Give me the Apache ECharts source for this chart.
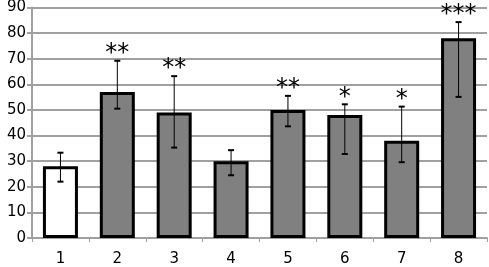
<!DOCTYPE html>
<html><head><meta charset="utf-8">
<script src="https://cdn.jsdelivr.net/npm/echarts@6/dist/echarts.min.js"></script>
<style>html,body{margin:0;padding:0;background:#fff}#c{width:489px;height:267px}</style>
</head><body><div id="c"></div>
<script>
const categories = ['1','2','3','4','5','6','7','8'];
const values = [28, 57, 49, 30, 50, 48, 38, 78];
const errHigh = [33.3, 69.2, 63.2, 34.3, 55.5, 52.2, 51.3, 84.3];
const errLow = [22, 50.5, 35.3, 24.5, 43.6, 32.8, 29.6, 55.1];
const sigLabels = ['', '**', '**', '', '**', '*', '*', '***'];
const yTicks = [0, 10, 20, 30, 40, 50, 60, 70, 80, 90];

const chart = echarts.init(document.getElementById('c'), null, {renderer: 'canvas'});
const barData = values.map((v, i) => ({
  value: v,
  itemStyle: {color: i === 0 ? '#ffffff' : '#808080'}
}));
const errData = categories.map((c, i) => [i, errLow[i], errHigh[i]]);

chart.setOption({
  animation: false,
  grid: {left: 32, right: 2, top: 6, bottom: 27, containLabel: false},
  xAxis: {
    type: 'category', data: categories,
    axisLine: {lineStyle: {color: '#a0a0a0', width: 2}},
    axisTick: {show: true, length: 4, lineStyle: {color: '#a0a0a0'}},
    axisLabel: {fontSize: 15, color: '#000', margin: 14, fontFamily: 'DejaVu Sans'}
  },
  yAxis: {
    type: 'value', min: yTicks[0], max: yTicks[yTicks.length - 1], interval: 10,
    axisLine: {show: true, lineStyle: {color: '#a0a0a0', width: 2}},
    axisTick: {show: true, length: 5, lineStyle: {color: '#a0a0a0', width: 2}},
    axisLabel: {fontSize: 15, color: '#000', margin: 6, fontFamily: 'DejaVu Sans'},
    splitLine: {lineStyle: {color: '#a0a0a0', width: 2}}
  },
  series: [{
    type: 'bar', data: barData, barWidth: 35, z: 2,
    itemStyle: {borderColor: '#000', borderWidth: 3}
  }, {
    type: 'custom', data: errData, z: 5,
    renderItem: function (params, api) {
      const x = api.value(0);
      const lo = api.coord([x, api.value(1)]);
      const hi = api.coord([x, api.value(2)]);
      const cap = 3;
      const children = [
        {type: 'line', shape: {x1: hi[0], y1: hi[1], x2: lo[0], y2: lo[1]}, style: {stroke: '#000', lineWidth: 1}},
        {type: 'line', shape: {x1: hi[0] - cap, y1: hi[1], x2: hi[0] + cap, y2: hi[1]}, style: {stroke: '#000', lineWidth: 2}},
        {type: 'line', shape: {x1: lo[0] - cap, y1: lo[1], x2: lo[0] + cap, y2: lo[1]}, style: {stroke: '#000', lineWidth: 2}}
      ];
      const lab = sigLabels[params.dataIndex];
      if (lab) {
        children.push({type: 'text', style: {
          text: lab, x: hi[0], y: hi[1] - 7, align: 'center', verticalAlign: 'middle',
          fontSize: 24, fontFamily: 'DejaVu Sans', fill: '#000'
        }});
      }
      return {type: 'group', children: children};
    }
  }]
});
</script></body></html>
